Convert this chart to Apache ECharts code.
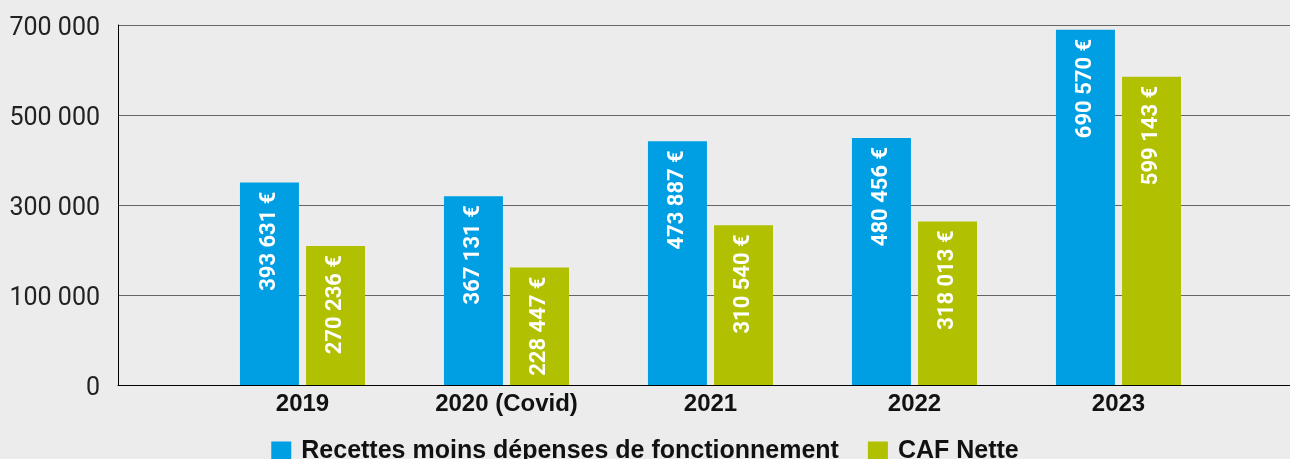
<!DOCTYPE html>
<html>
<head>
<meta charset="utf-8">
<script src="https://cdn.jsdelivr.net/npm/echarts@6/dist/echarts.min.js"></script>
<style>
  html, body { margin: 0; padding: 0; background: #ececec; }
  #chart { width: 1290px; height: 459px; }
</style>
</head>
<body>
<div id="chart"></div>
<script>
const categories = ['2019', '2020 (Covid)', '2021', '2022', '2023']
const recettes = [393631, 367131, 473887, 480456, 690570]
const cafNette = [270236, 228447, 310540, 318013, 599143]
const yTickLabels = ['0', '100 000', '300 000', '500 000', '700 000']

const fmt = v => String(v).replace(/\B(?=(\d{3})+(?!\d))/g, ' ') + ' €'

const barLabel = {
  show: true,
  position: 'insideTop',
  distance: 9,
  rotate: 90,
  align: 'right',
  verticalAlign: 'middle',
  color: '#fff',
  fontFamily: 'Roboto',
  fontWeight: 'bold',
  fontSize: 22,
  formatter: p => fmt(p.value)
}

const chart = echarts.init(document.getElementById('chart'))
chart.setOption({
  animation: false,
  backgroundColor: '#ececec',
  textStyle: { fontFamily: 'Roboto' },
  legend: {
    left: 'center',
    top: 434,
    itemWidth: 20,
    itemHeight: 20,
    itemGap: 29,
    icon: 'rect',
    textStyle: {
      fontFamily: 'Liberation Sans',
      fontSize: 25,
      fontWeight: 'bold',
      color: '#111',
      padding: [0, 0, 0, 5]
    },
    data: ['Recettes moins dépenses de fonctionnement', 'CAF Nette']
  },
  grid: [
    // frame: axis lines, split lines, y labels
    { left: 118, right: 0, top: 25, bottom: 74 },
    // bars
    { left: 200.5, right: 69.5, top: 25, bottom: 74 }
  ],
  xAxis: [
    {
      gridIndex: 0,
      type: 'category',
      position: 'top',
      data: [''],
      axisLine: { lineStyle: { color: '#000', width: 1 } },
      axisTick: { show: false },
      axisLabel: { show: false }
    },
    {
      gridIndex: 1,
      type: 'category',
      data: categories,
      axisLine: { show: false },
      axisTick: { show: false },
      axisLabel: {
        margin: 7,
        fontFamily: 'Liberation Sans',
        fontSize: 24,
        fontWeight: 'bold',
        color: '#111'
      }
    }
  ],
  yAxis: [
    {
      gridIndex: 0,
      type: 'value',
      min: 0,
      max: 700000,
      interval: 175000,
      axisLine: { show: true, lineStyle: { color: '#000', width: 1 } },
      axisTick: { show: false },
      splitLine: { lineStyle: { color: '#666', width: 1 } },
      axisLabel: {
        margin: 18,
        color: '#222',
        formatter: (v, i) => '{v|' + yTickLabels[i] + '}',
        rich: {
          v: { fontSize: 25, color: '#222', padding: [7, 0, 0, 0] }
        }
      }
    },
    {
      gridIndex: 1,
      type: 'value',
      min: 0,
      max: 700000,
      show: false
    }
  ],
  series: [
    {
      name: 'Recettes moins dépenses de fonctionnement',
      type: 'bar',
      xAxisIndex: 1,
      yAxisIndex: 1,
      barWidth: 59,
      barGap: '12%',
      itemStyle: { color: '#009fe3' },
      label: barLabel,
      data: recettes
    },
    {
      name: 'CAF Nette',
      type: 'bar',
      xAxisIndex: 1,
      yAxisIndex: 1,
      barWidth: 59,
      barGap: '12%',
      itemStyle: { color: '#b1c000' },
      label: barLabel,
      data: cafNette
    }
  ]
})
</script>
</body>
</html>
